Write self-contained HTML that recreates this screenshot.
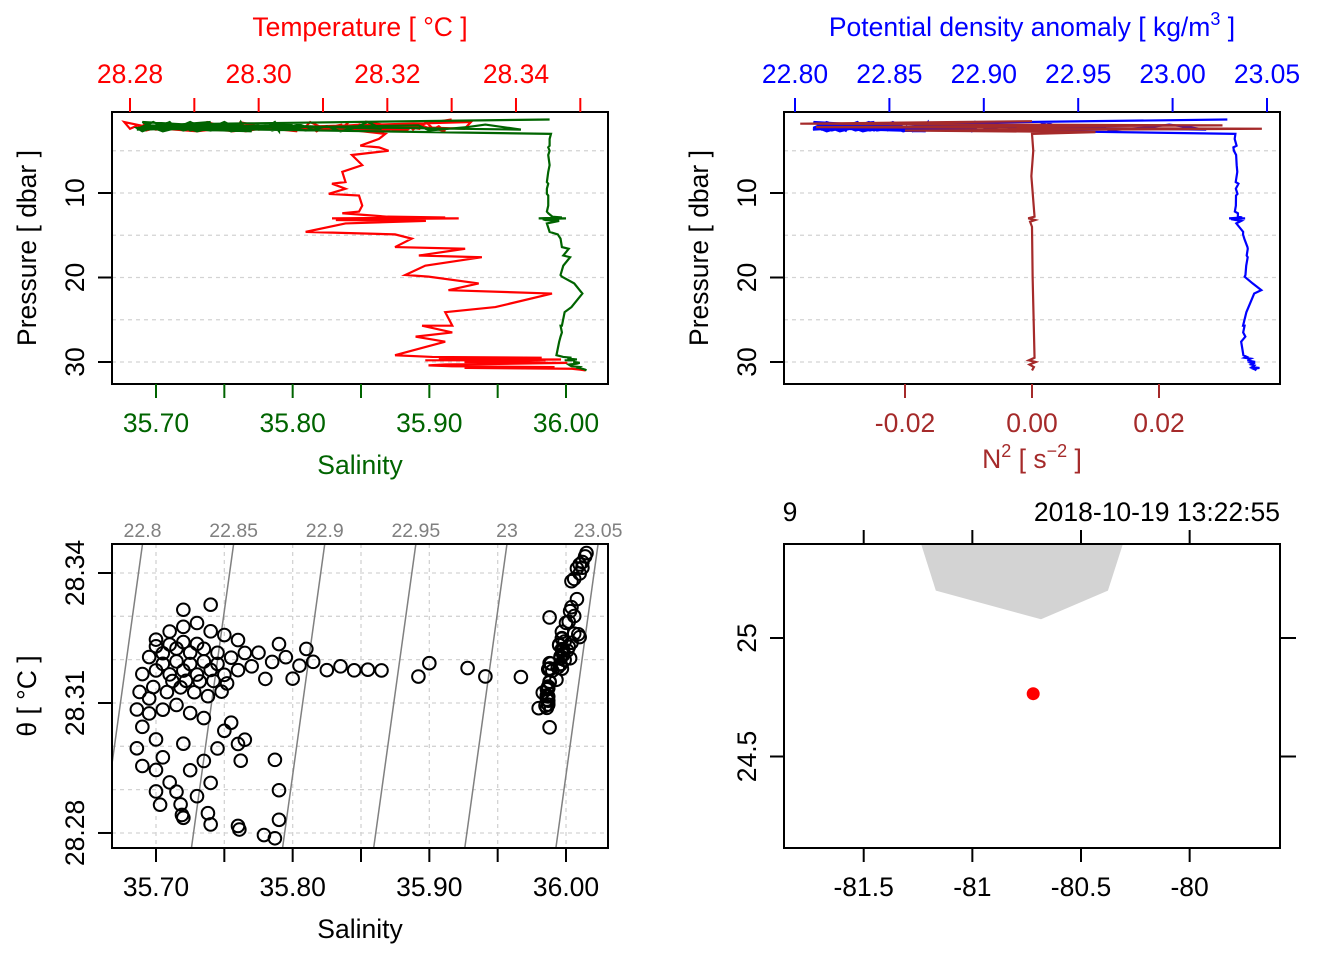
<!DOCTYPE html>
<html><head><meta charset="utf-8"><style>
html,body{margin:0;padding:0;background:#fff;}
svg{display:block;font-family:"Liberation Sans",sans-serif;}
</style></head><body>
<svg id="fig" width="1344" height="960" viewBox="0 0 1344 960" xmlns="http://www.w3.org/2000/svg"></svg>
<script>
// ---------- data ----------
const surfSal = [35.700,35.710,35.720,35.730,35.740,35.750,35.760,35.695,35.705,35.715,35.725,35.735,35.745,35.755,35.765,35.690,35.700,35.710,35.720,35.730,35.740,35.750,35.760,35.770,35.688,35.698,35.708,35.718,35.728,35.738,35.748,35.686,35.695,35.705,35.715,35.725,35.735,35.775,35.785,35.795,35.805,35.815,35.825,35.835,35.845,35.855,35.865,35.790,35.810,35.780,35.800,35.690,35.700,35.705,35.700,35.710,35.715,35.718,35.730,35.740,35.735,35.745,35.750,35.755,35.760,35.762,35.765,35.720,35.725,35.738,35.760,35.720,35.700,35.690,35.686,35.740,35.720,35.892,35.900,35.928,35.941,35.967,35.787,35.790,35.790,35.787,35.779,35.761,35.740,35.719,35.703,35.705,35.715,35.725,35.735,35.745,35.712,35.722,35.732,35.742,35.752,35.700,35.710,35.720,35.730,35.695];
const surfTemp = [28.325,28.327,28.328,28.329,28.327,28.326,28.325,28.321,28.322,28.323,28.322,28.323,28.322,28.321,28.322,28.317,28.318,28.317,28.318,28.317,28.318,28.317,28.318,28.319,28.313,28.314,28.313,28.314,28.313,28.312,28.313,28.309,28.308,28.309,28.310,28.308,28.307,28.322,28.320,28.321,28.319,28.320,28.318,28.319,28.318,28.318,28.318,28.324,28.323,28.316,28.316,28.305,28.302,28.298,28.295,28.292,28.290,28.287,28.289,28.292,28.297,28.300,28.304,28.306,28.301,28.297,28.302,28.301,28.295,28.285,28.282,28.284,28.290,28.296,28.300,28.333,28.332,28.3165,28.3197,28.3185,28.3165,28.3165,28.2973,28.2904,28.2835,28.2791,28.280,28.2812,28.2825,28.2846,28.2869,28.3195,28.3200,28.3195,28.3200,28.3195,28.3155,28.3155,28.3155,28.3155,28.3150,28.3235,28.3240,28.3245,28.3240,28.3115];
const surfPressure = [1.9,2.5,2.1,2.7,2.3,1.6,2.4,2.0,2.6,2.2,1.9,2.5,2.1,2.7,2.3,1.6,2.4,2.0,2.6,2.2,1.9,2.5,2.1,2.7,2.3,1.6,2.4,2.0,2.6,2.2,1.9,2.5,2.1,2.7,2.3,1.6,2.4,2.0,2.6,2.2,1.9,2.5,2.1,2.7,2.3,1.6,2.4,2.0,2.6,2.2,1.9,2.5,2.1,2.7,2.3,1.6,2.4,2.0,2.6,2.2,1.9,2.5,2.1,2.7,2.3,1.6,2.4,2.0,2.6,2.2,1.9,2.5,2.1,2.7,2.3,1.6,2.4,2.0,2.6,2.2,1.9,2.5,2.1,2.7,2.3,1.6,2.4,2.0,2.6,2.2,1.9,2.3,2.0,2.5,2.1,2.4,2.2,1.9,2.6,2.0,2.4,2.1,2.5,2.2,1.8,2.3];
const deepPressure = [1.3,3.0,3.6,4.4,4.6,5.0,5.5,6.7,7.5,8.7,8.9,9.5,10.1,10.3,11.5,12.2,12.4,12.8,12.9,13.0,13.0,13.1,13.2,13.3,13.6,14.6,14.9,15.4,16.4,16.6,17.4,17.6,18.6,19.7,19.9,20.7,21.5,21.9,23.5,24.1,25.7,25.7,26.5,27.0,27.6,29.2,29.4,29.5,29.6,29.7,29.8,29.8,30.0,30.1,30.2,30.3,30.4,30.5,30.6,30.7,30.8,30.9,31.0];
const deepTemp = [28.330,28.3197,28.3187,28.3158,28.3187,28.3202,28.3145,28.3161,28.3130,28.3135,28.3114,28.3135,28.3109,28.3156,28.3161,28.3156,28.3130,28.3200,28.3290,28.3114,28.3311,28.3150,28.3120,28.3260,28.3135,28.3073,28.3212,28.3238,28.3212,28.3321,28.3249,28.3347,28.3259,28.3228,28.3264,28.3342,28.3295,28.3456,28.3368,28.3290,28.3301,28.3254,28.3301,28.3244,28.3290,28.3212,28.3270,28.3440,28.3280,28.3470,28.3259,28.3446,28.3320,28.3480,28.3400,28.3290,28.3264,28.3300,28.3460,28.3320,28.3487,28.3500,28.3508];
const deepSal = [35.988,35.989,35.988,35.988,35.987,35.988,35.987,35.988,35.987,35.986,35.987,35.986,35.986,35.987,35.987,35.986,35.987,35.990,35.997,35.980,36.000,35.983,35.985,35.995,35.986,35.988,35.994,35.996,35.997,36.002,35.998,36.003,35.998,35.996,35.997,36.006,36.010,36.012,36.004,35.999,35.997,35.996,35.997,35.996,35.995,35.993,35.998,36.004,36.001,36.008,35.999,36.006,36.006,36.010,36.008,36.002,36.003,36.004,36.010,36.009,36.012,36.014,36.015];
const n2Pressure = [1.5,1.8,2.0,2.2,2.4,2.6,2.8,3.0,5.0,8.0,12.8,13.0,13.2,13.4,14.0,20.0,29.5,29.8,30.0,30.3,30.6,31.0];
const n2Value = [0,-0.0365,0.030,-0.034,0.0362,-0.020,0.010,0,0.0002,-0.0001,0.0004,-0.0006,0.0005,-0.0003,0,0.0001,0.0004,-0.0005,0.0006,-0.0004,0.0003,0];
const isopycnals = [22.8,22.85,22.9,22.95,23.0,23.05];
const isoLabels = ["22.8","22.85","22.9","22.95","23","23.05"];
const salTicks = [35.70,35.75,35.80,35.85,35.90,35.95,36.00];
const salLabels = ["35.70","35.80","35.90","36.00"];
const tempTicks = [28.28,28.29,28.30,28.31,28.32,28.33,28.34,28.35];
const tempLabels = ["28.28","28.30","28.32","28.34"];
const presTicks = [10,20,30];
const presGrid = [5,10,15,20,25,30];
const sigTicks = [22.80,22.85,22.90,22.95,23.00,23.05];
const n2Ticks = [-0.02,0,0.02];
const n2Labels = ["-0.02","0.00","0.02"];
const thetaTicks = [28.28,28.31,28.34];
const thetaGrid = [28.28,28.29,28.30,28.31,28.32,28.33,28.34];
const lonTicks = [-81.5,-81,-80.5,-80];
const latTicks = [25,24.5];
const coastLon = [-81.237,-81.168,-80.684,-80.376,-80.306];
const coastLat = [25.40,25.20,25.079,25.20,25.40];
const stationLon = [-80.72];
const stationLat = [24.765];

// ---------- helpers ----------
const NS="http://www.w3.org/2000/svg", svg=document.getElementById('fig');
const FS=26.5;
function mk(tag, attrs, parent){const e=document.createElementNS(NS,tag);for(const k in attrs)e.setAttribute(k,attrs[k]);(parent||svg).appendChild(e);return e;}
function txt(s,x,y,opt){const e=mk('text',Object.assign({x:x,y:y,'text-anchor':'middle','font-size':FS,fill:'#000'},opt||{}));e.textContent=s;return e;}
const sx = s => 156 + (s-35.70)*1366.7;
const ty = t => 130 + (t-28.28)*6433;
const py = p => 108.5 + p*8.45;
const dx = g => 795 + (g-22.80)*1888;
const nx = n => 1032 + n*6350;
const thy = t => 573 + (28.34-t)*4333;
const lonx = l => 863.7 + (l+81.5)*217.3;
const laty = l => 638 + (25-l)*237;
const theta = (t,p) => t - 0.0002*p;
const sigma = (s,th) => 23.0 + 0.75*(s-35.9568) - 0.33*(th-28.3467);

const P=[1.3].concat(surfPressure, deepPressure.slice(1));
const T=[deepTemp[0]].concat(surfTemp, deepTemp.slice(1));
const S=[deepSal[0]].concat(surfSal, deepSal.slice(1));

// ---------- panel 1 ----------
let e;
const c1=mk('clipPath',{id:'c1'});mk('rect',{x:112,y:112,width:496,height:272},c1);
presGrid.forEach(p=>{e=mk('line',{x1:112,x2:608,y1:py(p),y2:py(p),stroke:'#d3d3d3','stroke-dasharray':'4,4','stroke-width':1.3});

});
e=mk('polyline',{points:P.map((p,i)=>ty(T[i])+','+py(p)).join(' '),fill:'none',stroke:'#ff0000','stroke-width':2.2,'clip-path':'url(#c1)'});


e=mk('polyline',{points:P.map((p,i)=>sx(S[i])+','+py(p)).join(' '),fill:'none',stroke:'#006400','stroke-width':2.2,'clip-path':'url(#c1)'});


e=mk('rect',{x:112,y:112,width:496,height:272,fill:'none',stroke:'#000','stroke-width':2});


salTicks.forEach(s=>{mk('line',{x1:sx(s),x2:sx(s),y1:384,y2:398,stroke:'#006400','stroke-width':2});});
salLabels.forEach(s=>{e=txt(s,sx(+s),432,{fill:'#006400'});

});
tempTicks.forEach(t=>{mk('line',{x1:ty(t),x2:ty(t),y1:98,y2:112,stroke:'#ff0000','stroke-width':2});});
tempLabels.forEach(t=>{e=txt(t,ty(+t),83,{fill:'#ff0000'});

});
presTicks.forEach(p=>{mk('line',{x1:98,x2:112,y1:py(p),y2:py(p),stroke:'#000','stroke-width':2});
e=txt(String(p),0,0,{transform:`translate(84,${py(p)}) rotate(-90)`});

});
e=txt('Temperature [ °C ]',360,36,{fill:'#ff0000'});


e=txt('Salinity',360,474,{fill:'#006400'});


e=txt('Pressure [ dbar ]',0,0,{transform:'translate(36,248) rotate(-90)'});



// ---------- panel 2 ----------
const c2=mk('clipPath',{id:'c2'});mk('rect',{x:784,y:112,width:496,height:272},c2);
presGrid.forEach(p=>{mk('line',{x1:784,x2:1280,y1:py(p),y2:py(p),stroke:'#d3d3d3','stroke-dasharray':'4,4','stroke-width':1.3});});
e=mk('polyline',{points:P.map((p,i)=>dx(sigma(S[i],theta(T[i],p)))+','+py(p)).join(' '),fill:'none',stroke:'#0000ff','stroke-width':2.2,'clip-path':'url(#c2)'});


e=mk('polyline',{points:n2Pressure.map((p,i)=>nx(n2Value[i])+','+py(p)).join(' '),fill:'none',stroke:'#a52a2a','stroke-width':2.2,'clip-path':'url(#c2)'});


e=mk('rect',{x:784,y:112,width:496,height:272,fill:'none',stroke:'#000','stroke-width':2});


sigTicks.forEach(g=>{mk('line',{x1:dx(g),x2:dx(g),y1:98,y2:112,stroke:'#0000ff','stroke-width':2});
e=txt(g.toFixed(2),dx(g),83,{fill:'#0000ff'});

});
n2Ticks.forEach((n,i)=>{mk('line',{x1:nx(n),x2:nx(n),y1:384,y2:398,stroke:'#a52a2a','stroke-width':2});
e=txt(n2Labels[i],nx(n),432,{fill:'#a52a2a'});

});
presTicks.forEach(p=>{mk('line',{x1:770,x2:784,y1:py(p),y2:py(p),stroke:'#000','stroke-width':2});
e=txt(String(p),0,0,{transform:`translate(756,${py(p)}) rotate(-90)`});

});
e=mk('text',{x:1032,y:36,'text-anchor':'middle','font-size':FS,fill:'#0000ff'});
e.innerHTML='Potential density anomaly [ kg/m<tspan dy="-11" font-size="18">3</tspan><tspan dy="11"> ]</tspan>';


e=mk('text',{x:1032,y:468,'text-anchor':'middle','font-size':FS,fill:'#a52a2a'});
e.innerHTML='N<tspan dy="-11" font-size="18">2</tspan><tspan dy="11"> [ s</tspan><tspan dy="-11" font-size="18">−2</tspan><tspan dy="11"> ]</tspan>';


e=txt('Pressure [ dbar ]',0,0,{transform:'translate(708,248) rotate(-90)'});



// ---------- panel 3 (TS) ----------
const c3=mk('clipPath',{id:'c3'});mk('rect',{x:112,y:544,width:496,height:304},c3);
salTicks.forEach(s=>{mk('line',{x1:sx(s),x2:sx(s),y1:544,y2:848,stroke:'#d3d3d3','stroke-dasharray':'4,4','stroke-width':1.3});});
thetaGrid.forEach(t=>{mk('line',{x1:112,x2:608,y1:thy(t),y2:thy(t),stroke:'#d3d3d3','stroke-dasharray':'4,4','stroke-width':1.3});});
const thTop=28.3467, thBot=28.2765;
isopycnals.forEach((g,i)=>{
 const sTop=35.9568+(g-23.0+0.33*(thTop-28.3467))/0.75, sBot=35.9568+(g-23.0+0.33*(thBot-28.3467))/0.75;
 e=mk('line',{x1:sx(sTop),y1:thy(thTop),x2:sx(sBot),y2:thy(thBot),stroke:'#808080','stroke-width':1.5,'clip-path':'url(#c3)'});
 
 
 e=txt(isoLabels[i],sx(sTop),537,{fill:'#808080','font-size':19.5});
 
 
});
const gPts=mk('g',{'clip-path':'url(#c3)'});


P.forEach((p,i)=>{e=mk('circle',{cx:sx(S[i]),cy:thy(theta(T[i],p)),r:6.3,fill:'none',stroke:'#000','stroke-width':2},gPts);

});
e=mk('rect',{x:112,y:544,width:496,height:304,fill:'none',stroke:'#000','stroke-width':2});


salTicks.forEach(s=>{mk('line',{x1:sx(s),x2:sx(s),y1:848,y2:862,stroke:'#000','stroke-width':2});});
salLabels.forEach(s=>{e=txt(s,sx(+s),896);

});
thetaTicks.forEach(t=>{mk('line',{x1:98,x2:112,y1:thy(t),y2:thy(t),stroke:'#000','stroke-width':2});
e=txt(t.toFixed(2),0,0,{transform:`translate(84,${thy(t)}) rotate(-90)`});

});
e=txt('Salinity',360,938);


e=txt('θ [ °C ]',0,0,{transform:'translate(36,696) rotate(-90)'});



// ---------- panel 4 (map) ----------
const c4=mk('clipPath',{id:'c4'});mk('rect',{x:784,y:544,width:496,height:304},c4);
e=mk('polygon',{points:coastLon.map((l,i)=>lonx(l)+','+laty(coastLat[i])).join(' '),fill:'#d3d3d3',stroke:'none','clip-path':'url(#c4)'});


stationLon.forEach((l,i)=>{e=mk('circle',{cx:lonx(l),cy:laty(stationLat[i]),r:6.5,fill:'#ff0000'});

});
e=mk('rect',{x:784,y:544,width:496,height:304,fill:'none',stroke:'#000','stroke-width':2});


lonTicks.forEach(l=>{mk('line',{x1:lonx(l),x2:lonx(l),y1:848,y2:862,stroke:'#000','stroke-width':2});
mk('line',{x1:lonx(l),x2:lonx(l),y1:530,y2:544,stroke:'#000','stroke-width':2});
e=txt(String(l),lonx(l),896);

});
latTicks.forEach(l=>{mk('line',{x1:770,x2:784,y1:laty(l),y2:laty(l),stroke:'#000','stroke-width':2});
mk('line',{x1:1280,x2:1296,y1:laty(l),y2:laty(l),stroke:'#000','stroke-width':2});
e=txt(String(l),0,0,{transform:`translate(756,${laty(l)}) rotate(-90)`});

});
e=txt('9',790,521,{'text-anchor':'middle'});


e=txt('2018-10-19 13:22:55',1280,521,{'text-anchor':'end'});


</script>
</body></html>
